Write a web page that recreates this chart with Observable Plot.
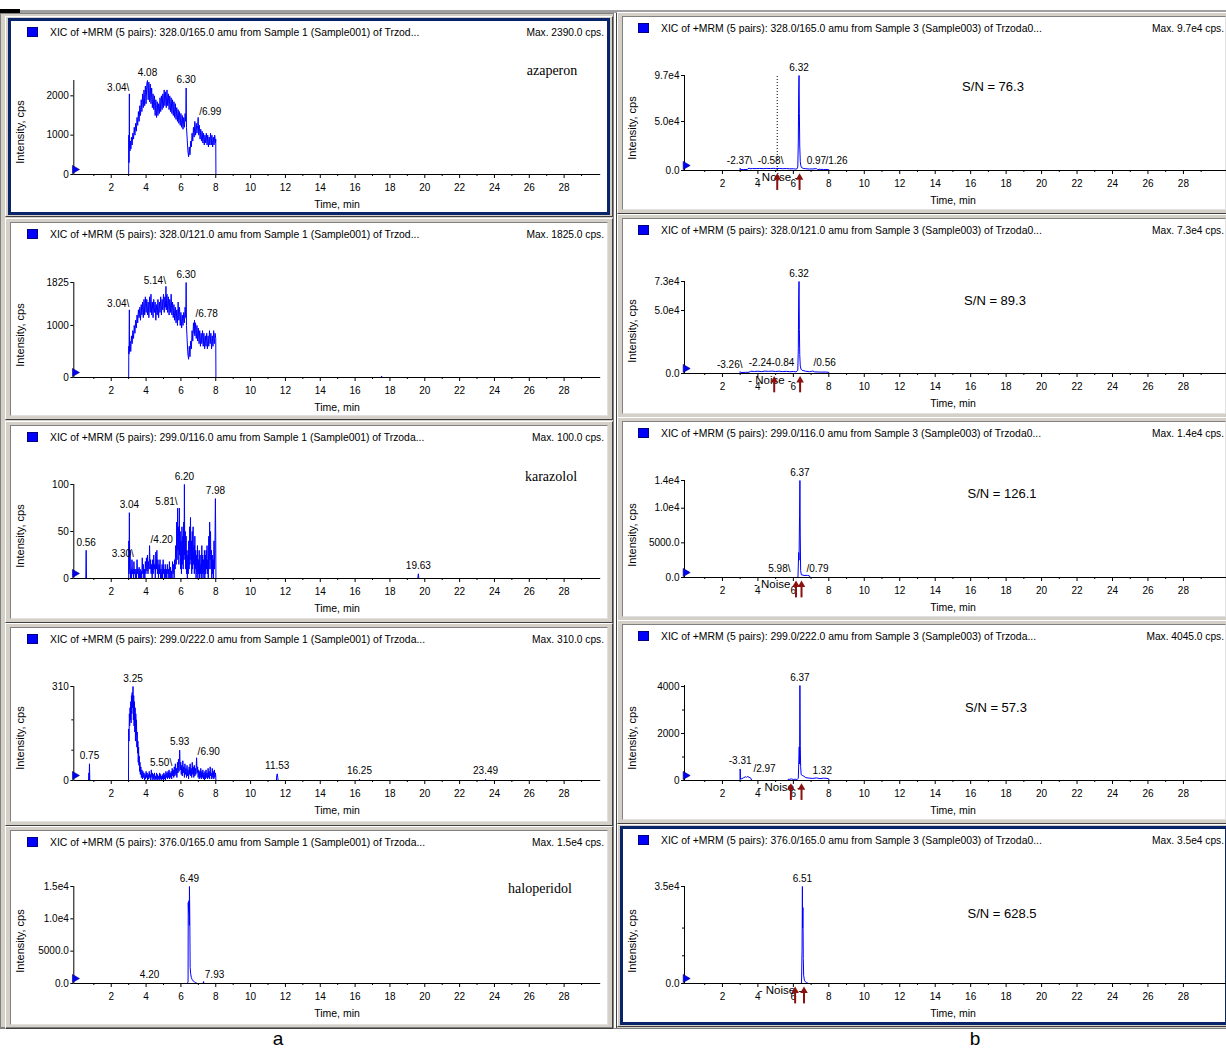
<!DOCTYPE html>
<html>
<head>
<meta charset="utf-8">
<script src="https://cdn.jsdelivr.net/npm/d3@7"></script>
<script src="https://cdn.jsdelivr.net/npm/@observablehq/plot@0.6"></script>
<style>
html,body{margin:0;padding:0;background:#fff;}
#page{position:relative;width:1226px;height:1050px;overflow:hidden;background:#fff;font-family:"Liberation Sans",Arial,sans-serif;color:#000;}
#page div{position:absolute;}
.t{white-space:nowrap;line-height:1;}
</style>
</head>
<body>
<div id="page"></div>
<script>
// ---------------- DATA ----------------
const timeMajor = [2,4,6,8,10,12,14,16,18,20,22,24,26,28];
const timeMinor = [1,3,5,7,9,11,13,15,17,19,21,23,25,27,29];

// Sample 1 (column a)
const L1_header = "XIC of +MRM (5 pairs): 328.0/165.0 amu from Sample 1 (Sample001) of Trzod...";
const L1_maxText = "Max. 2390.0 cps.";
const L1_max = 2390;
const L1_yTicks = [0,1000,2000];
const L1_yLabels = ["0","1000","2000"];
const L1_trace = [[2.99,0],[3.00,0],[3.01,1000],[3.02,300],[3.03,800],[3.04,2050],[3.05,700],[3.08,600],[3.10,850],[3.13,650],[3.16,950],[3.20,750],[3.24,1050],[3.28,900],[3.32,1200],[3.36,1000],[3.40,1300],[3.44,1100],[3.48,1450],[3.52,1250],[3.56,1600],[3.60,1350],[3.64,1750],[3.68,1500],[3.72,1900],[3.76,1600],[3.80,2050],[3.84,1700],[3.88,2150],[3.92,1750],[3.96,2250],[4.00,1800],[4.04,2300],[4.08,2390],[4.12,1900],[4.16,2350],[4.20,1850],[4.24,2300],[4.28,1800],[4.32,2200],[4.36,1700],[4.40,2050],[4.44,1650],[4.48,2000],[4.52,1500],[4.56,1900],[4.60,1450],[4.64,1850],[4.68,1500],[4.72,1800],[4.76,1550],[4.80,1950],[4.84,1600],[4.88,2000],[4.92,1650],[4.96,2050],[5.00,1700],[5.04,2150],[5.08,1750],[5.12,2100],[5.16,1700],[5.20,2150],[5.24,1750],[5.28,2050],[5.32,1650],[5.36,2000],[5.40,1600],[5.44,1950],[5.48,1550],[5.52,1900],[5.56,1500],[5.60,1850],[5.64,1450],[5.68,1800],[5.72,1400],[5.76,1700],[5.80,1350],[5.84,1650],[5.88,1300],[5.92,1600],[5.96,1250],[6.00,1550],[6.04,1200],[6.08,1500],[6.12,1150],[6.16,1450],[6.20,1200],[6.24,1550],[6.28,1350],[6.30,2200],[6.32,1200],[6.36,900],[6.40,600],[6.44,450],[6.48,700],[6.52,500],[6.56,850],[6.60,700],[6.64,1050],[6.68,850],[6.72,1200],[6.76,950],[6.80,1350],[6.84,1000],[6.88,1300],[6.92,1050],[6.96,1250],[6.99,1450],[7.02,1000],[7.06,1250],[7.10,900],[7.14,1150],[7.18,850],[7.22,1100],[7.26,800],[7.30,1050],[7.34,750],[7.38,1000],[7.42,800],[7.46,1050],[7.50,750],[7.54,1000],[7.58,700],[7.62,950],[7.66,750],[7.70,1050],[7.74,750],[7.78,1000],[7.82,700],[7.86,950],[7.90,750],[7.94,1000],[7.98,800],[8.00,900],[8.01,0]];
const L1_peaks = [{t:3.04,v:2050,text:"3.04",kind:"l"},{t:4.08,v:2390,text:"4.08",kind:"c"},{t:6.30,v:2200,text:"6.30",kind:"c"},{t:6.99,v:1450,text:"6.99",kind:"r"}];

const L2_header = "XIC of +MRM (5 pairs): 328.0/121.0 amu from Sample 1 (Sample001) of Trzod...";
const L2_maxText = "Max. 1825.0 cps.";
const L2_max = 1825;
const L2_yTicks = [0,1000,1825];
const L2_yLabels = ["0","1000","1825"];
const L2_trace = [[3.00,0],[3.01,600],[3.02,450],[3.04,1300],[3.05,500],[3.08,700],[3.12,500],[3.16,800],[3.20,650],[3.24,900],[3.28,750],[3.32,1000],[3.36,850],[3.40,1100],[3.44,950],[3.48,1200],[3.52,1050],[3.56,1300],[3.60,1150],[3.64,1350],[3.68,1100],[3.72,1400],[3.76,1200],[3.80,1450],[3.84,1150],[3.88,1500],[3.92,1200],[3.96,1550],[4.00,1250],[4.04,1500],[4.08,1200],[4.12,1450],[4.16,1150],[4.20,1550],[4.24,1250],[4.28,1600],[4.32,1200],[4.36,1450],[4.40,1150],[4.44,1500],[4.48,1250],[4.52,1450],[4.56,1100],[4.60,1400],[4.64,1200],[4.68,1500],[4.72,1150],[4.76,1450],[4.80,1250],[4.84,1550],[4.88,1200],[4.92,1500],[4.96,1300],[5.00,1600],[5.04,1250],[5.08,1550],[5.12,1350],[5.14,1750],[5.16,1300],[5.20,1600],[5.24,1250],[5.28,1550],[5.32,1200],[5.36,1500],[5.40,1250],[5.44,1600],[5.48,1200],[5.52,1450],[5.56,1150],[5.60,1400],[5.64,1100],[5.68,1350],[5.72,1050],[5.76,1300],[5.80,1000],[5.84,1450],[5.88,1100],[5.92,1350],[5.96,1000],[6.00,1250],[6.04,950],[6.08,1200],[6.12,1000],[6.16,1250],[6.20,1050],[6.24,1350],[6.28,1150],[6.30,1825],[6.32,1000],[6.36,700],[6.40,450],[6.44,350],[6.48,600],[6.52,400],[6.56,700],[6.60,550],[6.64,900],[6.68,700],[6.72,1050],[6.76,850],[6.78,1100],[6.80,800],[6.84,1050],[6.88,750],[6.92,1000],[6.96,700],[7.00,950],[7.04,650],[7.08,900],[7.12,600],[7.16,850],[7.20,650],[7.24,900],[7.28,600],[7.32,850],[7.36,550],[7.40,800],[7.44,600],[7.48,850],[7.52,550],[7.56,800],[7.60,600],[7.64,900],[7.68,650],[7.72,850],[7.76,550],[7.80,800],[7.84,600],[7.88,900],[7.92,650],[7.96,850],[8.00,750],[8.01,0],[17.48,0],[17.52,25],[17.56,0]];
const L2_peaks = [{t:3.04,v:1300,text:"3.04",kind:"l"},{t:5.14,v:1750,text:"5.14",kind:"l"},{t:6.30,v:1825,text:"6.30",kind:"c"},{t:6.78,v:1100,text:"6.78",kind:"r"}];

const L3_header = "XIC of +MRM (5 pairs): 299.0/116.0 amu from Sample 1 (Sample001) of Trzoda...";
const L3_maxText = "Max. 100.0 cps.";
const L3_max = 100;
const L3_yTicks = [0,50,100];
const L3_yLabels = ["0","50","100"];
const L3_trace = [[0.54,0],[0.56,30],[0.58,0],[3.00,0],[3.01,40],[3.02,5],[3.04,70],[3.06,10],[3.08,30],[3.10,0],[3.13,10],[3.16,0],[3.19,20],[3.22,5],[3.25,10],[3.28,0],[3.30,18],[3.33,5],[3.36,10],[3.39,0],[3.42,10],[3.45,0],[3.48,20],[3.51,5],[3.54,10],[3.57,0],[3.60,12],[3.63,0],[3.66,10],[3.69,0],[3.72,8],[3.75,0],[3.78,22],[3.81,5],[3.84,15],[3.87,0],[3.90,10],[3.93,0],[3.96,18],[3.99,5],[4.02,22],[4.05,8],[4.08,25],[4.11,5],[4.14,18],[4.17,10],[4.20,35],[4.23,10],[4.26,20],[4.29,5],[4.32,15],[4.35,0],[4.38,20],[4.41,5],[4.44,25],[4.47,10],[4.50,15],[4.53,0],[4.56,28],[4.59,10],[4.62,30],[4.65,5],[4.68,20],[4.71,0],[4.74,15],[4.77,5],[4.80,20],[4.83,0],[4.86,10],[4.89,0],[4.92,15],[4.95,0],[4.98,20],[5.01,5],[5.04,10],[5.07,0],[5.10,15],[5.13,0],[5.16,10],[5.19,0],[5.22,15],[5.25,5],[5.28,10],[5.31,0],[5.34,18],[5.37,0],[5.40,12],[5.43,0],[5.46,8],[5.49,0],[5.52,18],[5.55,5],[5.58,15],[5.61,0],[5.64,20],[5.67,10],[5.70,35],[5.73,15],[5.76,60],[5.78,20],[5.81,75],[5.83,30],[5.86,55],[5.88,15],[5.91,75],[5.93,25],[5.96,50],[5.98,10],[6.01,40],[6.03,5],[6.06,55],[6.08,15],[6.11,45],[6.13,10],[6.16,60],[6.18,20],[6.20,100],[6.22,25],[6.25,50],[6.27,10],[6.30,45],[6.32,5],[6.35,30],[6.37,0],[6.40,25],[6.42,5],[6.45,40],[6.47,10],[6.50,55],[6.52,15],[6.55,65],[6.57,20],[6.60,40],[6.62,5],[6.65,50],[6.67,10],[6.70,55],[6.72,15],[6.75,35],[6.77,5],[6.80,45],[6.82,10],[6.85,30],[6.87,0],[6.90,25],[6.92,5],[6.95,35],[6.97,0],[7.00,20],[7.02,5],[7.05,30],[7.07,0],[7.10,25],[7.12,5],[7.15,15],[7.17,0],[7.20,35],[7.22,5],[7.25,25],[7.27,0],[7.30,20],[7.32,5],[7.35,30],[7.37,0],[7.40,25],[7.42,5],[7.45,30],[7.47,10],[7.50,35],[7.52,5],[7.55,20],[7.57,0],[7.60,45],[7.62,10],[7.65,60],[7.67,20],[7.70,50],[7.72,10],[7.75,30],[7.77,0],[7.80,25],[7.82,5],[7.85,20],[7.87,0],[7.90,40],[7.92,10],[7.95,30],[7.98,85],[8.00,40],[8.01,0],[19.60,0],[19.63,5],[19.66,0]];
const L3_peaks = [{t:0.56,v:30,text:"0.56",kind:"c"},{t:3.04,v:70,text:"3.04",kind:"c"},{t:3.30,v:20,text:"3.30",kind:"l"},{t:4.20,v:35,text:"4.20",kind:"r"},{t:5.81,v:75,text:"5.81",kind:"l"},{t:6.20,v:100,text:"6.20",kind:"c"},{t:7.98,v:85,text:"7.98",kind:"c"},{t:19.63,v:5,text:"19.63",kind:"c"}];

const L4_header = "XIC of +MRM (5 pairs): 299.0/222.0 amu from Sample 1 (Sample001) of Trzoda...";
const L4_maxText = "Max. 310.0 cps.";
const L4_max = 310;
const L4_yTicks = [0,310];
const L4_yLabels = ["0","310"];
const L4_yMinor = [100,200];
const L4_trace = [[0.70,0],[0.72,25],[0.73,0],[0.75,55],[0.77,0],[2.99,0],[3.00,170],[3.02,130],[3.04,220],[3.06,180],[3.08,240],[3.10,200],[3.12,260],[3.14,190],[3.16,280],[3.18,220],[3.20,290],[3.22,240],[3.25,310],[3.27,200],[3.29,280],[3.31,180],[3.33,260],[3.35,160],[3.37,240],[3.39,130],[3.41,220],[3.43,150],[3.45,200],[3.47,110],[3.49,160],[3.51,90],[3.53,130],[3.55,60],[3.57,110],[3.59,50],[3.61,80],[3.63,30],[3.65,60],[3.67,20],[3.70,45],[3.73,10],[3.76,35],[3.79,5],[3.82,30],[3.85,10],[3.88,25],[3.91,0],[3.94,20],[3.97,5],[4.00,30],[4.03,10],[4.06,25],[4.09,0],[4.12,20],[4.15,5],[4.18,30],[4.21,10],[4.24,20],[4.27,0],[4.30,35],[4.33,10],[4.36,25],[4.39,0],[4.42,20],[4.45,5],[4.48,25],[4.51,0],[4.54,15],[4.57,5],[4.60,25],[4.63,0],[4.66,20],[4.69,5],[4.72,15],[4.75,0],[4.78,25],[4.81,5],[4.84,20],[4.87,0],[4.90,15],[4.93,5],[4.96,20],[4.99,0],[5.02,25],[5.05,5],[5.08,20],[5.11,0],[5.14,30],[5.17,10],[5.20,25],[5.23,5],[5.26,30],[5.29,10],[5.32,35],[5.35,5],[5.38,25],[5.41,10],[5.44,30],[5.47,5],[5.50,40],[5.53,15],[5.56,35],[5.59,10],[5.62,45],[5.65,15],[5.68,55],[5.71,20],[5.74,40],[5.77,10],[5.80,60],[5.83,25],[5.86,70],[5.89,30],[5.93,100],[5.96,35],[5.99,60],[6.02,20],[6.05,50],[6.08,15],[6.11,65],[6.14,25],[6.17,45],[6.20,10],[6.23,55],[6.26,20],[6.29,40],[6.32,10],[6.35,50],[6.38,15],[6.41,35],[6.44,5],[6.47,45],[6.50,20],[6.53,55],[6.56,15],[6.59,40],[6.62,10],[6.65,60],[6.68,20],[6.71,45],[6.74,10],[6.77,50],[6.80,15],[6.83,40],[6.86,20],[6.90,75],[6.93,25],[6.96,45],[6.99,10],[7.02,35],[7.05,5],[7.08,30],[7.11,10],[7.14,40],[7.17,5],[7.20,30],[7.23,10],[7.26,35],[7.29,5],[7.32,25],[7.35,0],[7.38,30],[7.41,5],[7.44,35],[7.47,10],[7.50,25],[7.53,5],[7.56,40],[7.59,10],[7.62,30],[7.65,5],[7.68,45],[7.71,15],[7.74,25],[7.77,5],[7.80,40],[7.83,10],[7.86,30],[7.89,5],[7.92,35],[7.95,10],[7.98,25],[8.00,15],[8.01,0],[11.48,0],[11.50,15],[11.53,22],[11.56,10],[11.58,0],[16.23,0],[16.25,4],[16.27,0],[23.47,0],[23.49,4],[23.51,0]];
const L4_peaks = [{t:0.75,v:55,text:"0.75",kind:"c"},{t:3.25,v:310,text:"3.25",kind:"c"},{t:5.50,v:40,text:"5.50",kind:"l"},{t:5.93,v:100,text:"5.93",kind:"c"},{t:6.90,v:75,text:"6.90",kind:"r"},{t:11.53,v:22,text:"11.53",kind:"c"},{t:16.25,v:4,text:"16.25",kind:"c"},{t:23.49,v:4,text:"23.49",kind:"c"}];

const L5_header = "XIC of +MRM (5 pairs): 376.0/165.0 amu from Sample 1 (Sample001) of Trzoda...";
const L5_maxText = "Max. 1.5e4 cps.";
const L5_max = 15000;
const L5_yTicks = [0,5000,10000,15000];
const L5_yLabels = ["0.0","5000.0","1.0e4","1.5e4"];
const L5_trace = [[4.18,0],[4.20,60],[4.22,0],[6.38,0],[6.41,300],[6.42,12500],[6.44,11000],[6.46,12800],[6.48,9000],[6.49,15000],[6.51,10000],[6.53,2500],[6.56,1500],[6.60,900],[6.65,600],[6.70,400],[6.78,250],[6.85,120],[6.95,0],[7.28,0],[7.30,300],[7.32,0],[7.91,0],[7.93,80],[7.95,0]];
const L5_peaks = [{t:4.20,v:60,text:"4.20",kind:"c"},{t:6.49,v:15000,text:"6.49",kind:"c"},{t:7.93,v:80,text:"7.93",kind:"c"}];

// Sample 3 (column b)
const R1_header = "XIC of +MRM (5 pairs): 328.0/165.0 amu from Sample 3 (Sample003) of Trzoda0...";
const R1_maxText = "Max. 9.7e4 cps.";
const R1_max = 97000;
const R1_yTicks = [0,50000,97000];
const R1_yLabels = ["0.0","5.0e4","9.7e4"];
const R1_trace = [[2.99,0],[3.00,2200],[3.02,900],[3.20,1000],[3.40,1100],[3.50,2500],[3.55,1800],[3.70,2000],[3.90,1900],[4.10,2100],[4.30,1900],[4.50,2100],[4.70,2000],[4.90,2200],[5.00,1900],[5.20,2100],[5.40,1800],[5.60,2000],[5.80,1700],[6.00,1800],[6.10,1500],[6.20,1600],[6.25,3500],[6.28,30000],[6.30,80000],[6.32,97000],[6.34,58000],[6.36,25000],[6.39,9000],[6.42,5000],[6.46,3000],[6.55,2200],[6.70,1800],[6.90,1500],[7.10,1600],[7.30,1900],[7.35,1100],[7.50,1200],[7.70,1000],[7.90,1100],[8.00,900],[8.01,0]];
const R1_peaks = [{t:6.32,v:97000,text:"6.32",kind:"c"},{t:3.69,v:4000,text:"-2.37",kind:"l"},{t:5.44,v:4000,text:"-0.58",kind:"l"},{t:7.30,v:1500,text:"0.97",kind:"c"},{t:7.75,v:3500,text:"1.26",kind:"r"}];
const R1_noise = {arrows:[5.09,6.35], labelT:5.05, dotted:true};
const R1_sn = "S/N = 76.3";

const R2_header = "XIC of +MRM (5 pairs): 328.0/121.0 amu from Sample 3 (Sample003) of Trzoda0...";
const R2_maxText = "Max. 7.3e4 cps.";
const R2_max = 73000;
const R2_yTicks = [0,50000,73000];
const R2_yLabels = ["0.0","5.0e4","7.3e4"];
const R2_trace = [[2.99,0],[3.00,1500],[3.05,800],[3.30,900],[3.50,1000],[3.60,1800],[3.80,1600],[4.00,1800],[4.20,1500],[4.40,1900],[4.60,1700],[4.80,1900],[5.00,1600],[5.20,1800],[5.40,1500],[5.60,1700],[5.80,1400],[6.00,1600],[6.15,1300],[6.25,2500],[6.28,20000],[6.30,60000],[6.32,73000],[6.34,35000],[6.36,15000],[6.39,6000],[6.43,3500],[6.50,2500],[6.70,1800],[6.90,1400],[7.00,1600],[7.10,2000],[7.20,1300],[7.40,1200],[7.60,1100],[7.80,1200],[8.00,900],[8.01,0]];
const R2_peaks = [{t:6.32,v:73000,text:"6.32",kind:"c"},{t:3.13,v:2400,text:"-3.26",kind:"l"},{t:4.77,v:2400,text:"-2.24-0.84",kind:"c"},{t:7.08,v:4000,text:"0.56",kind:"r"}];
const R2_noise = {arrows:[4.92,6.38], labelT:4.68, dotted:false};
const R2_sn = "S/N = 89.3";

const R3_header = "XIC of +MRM (5 pairs): 299.0/116.0 amu from Sample 3 (Sample003) of Trzoda0...";
const R3_maxText = "Max. 1.4e4 cps.";
const R3_max = 14000;
const R3_yTicks = [0,5000,10000,14000];
const R3_yLabels = ["0.0","5000.0","1.0e4","1.4e4"];
const R3_trace = [[6.20,0],[6.26,100],[6.30,3600],[6.32,2500],[6.35,9000],[6.37,14000],[6.39,6000],[6.41,1000],[6.45,400],[6.60,300],[6.80,300],[6.90,250],[6.95,0]];
const R3_peaks = [{t:6.37,v:14000,text:"6.37",kind:"c"},{t:5.84,v:430,text:"5.98",kind:"l"},{t:6.68,v:430,text:"0.79",kind:"r"}];
const R3_noise = {arrows:[6.15,6.46], labelT:5.0, dotted:false};
const R3_sn = "S/N = 126.1";

const R4_header = "XIC of +MRM (5 pairs): 299.0/222.0 amu from Sample 3 (Sample003) of Trzoda...";
const R4_maxText = "Max. 4045.0 cps.";
const R4_max = 4045;
const R4_yTicks = [0,2000,4000];
const R4_yLabels = ["0","2000","4000"];
const R4_yMinor = [1000,3000];
const R4_trace = [[2.99,0],[3.00,490],[3.02,60],[3.10,80],[3.20,120],[3.30,160],[3.35,130],[3.40,170],[3.50,140],[3.60,100],[3.65,0],[5.70,0],[5.72,60],[5.80,50],[5.90,70],[6.00,40],[6.10,60],[6.20,30],[6.28,100],[6.33,1430],[6.35,700],[6.37,4045],[6.39,1500],[6.41,600],[6.44,250],[6.50,220],[6.60,180],[6.70,120],[6.90,100],[7.10,90],[7.30,110],[7.50,80],[7.70,100],[7.90,90],[8.00,70],[8.01,0]];
const R4_peaks = [{t:6.37,v:4045,text:"6.37",kind:"c"},{t:3.00,v:490,text:"-3.31",kind:"c"},{t:3.69,v:255,text:"2.97",kind:"r"},{t:7.63,v:85,text:"1.32",kind:"c"}];
const R4_noise = {arrows:[5.86,6.46], labelT:5.2, dotted:false};
const R4_sn = "S/N = 57.3";

const R5_header = "XIC of +MRM (5 pairs): 376.0/165.0 amu from Sample 3 (Sample003) of Trzoda0...";
const R5_maxText = "Max. 3.5e4 cps.";
const R5_max = 35000;
const R5_yTicks = [0,35000];
const R5_yLabels = ["0.0","3.5e4"];
const R5_yMinor = [10000,20000];
const R5_trace = [[6.40,0],[6.46,200],[6.49,12000],[6.51,35000],[6.52,20000],[6.54,27400],[6.56,9000],[6.58,3000],[6.62,1200],[6.68,600],[6.75,300],[6.85,0]];
const R5_peaks = [{t:6.51,v:35000,text:"6.51",kind:"c"}];
const R5_noise = {arrows:[6.10,6.60], labelT:5.27, dotted:false};
const R5_sn = "S/N = 628.5";

const compoundNames = ["azaperon","karazolol","haloperidol"];
const captions = ["a","b"];

// ---------------- LAYOUT / STYLE ----------------
const geom = {
  left:  {x:10, w:598, xDomain:[-0.15,30.1], mL:63.3, mR:7.8, sqX:27, hdrX:50, maxR:604, timeX:337, intX:20,
          tops:[20,222,425,627,830], bottoms:[213,416,619,822,1025], base:[174,377,578,780,983], peak:[80,282,484,686,886]},
  right: {x:622, w:604, xDomain:[-0.14,30.43], mL:62, mR:0, sqX:638, hdrX:661, maxR:1224, timeX:953, intX:632,
          tops:[16,218,421,624,828], bottoms:[210,414,617,820,1023], base:[170,373,577,780,983], peak:[75,281,480,685,886]}
};

const panels = [
  {col:"left", row:0, trace:L1_trace, peaks:L1_peaks, yTicks:L1_yTicks, yLabels:L1_yLabels, yMinor:[], max:L1_max, header:L1_header, maxText:L1_maxText, sel:true},
  {col:"left", row:1, trace:L2_trace, peaks:L2_peaks, yTicks:L2_yTicks, yLabels:L2_yLabels, yMinor:[], max:L2_max, header:L2_header, maxText:L2_maxText},
  {col:"left", row:2, trace:L3_trace, peaks:L3_peaks, yTicks:L3_yTicks, yLabels:L3_yLabels, yMinor:[], max:L3_max, header:L3_header, maxText:L3_maxText},
  {col:"left", row:3, trace:L4_trace, peaks:L4_peaks, yTicks:L4_yTicks, yLabels:L4_yLabels, yMinor:L4_yMinor, max:L4_max, header:L4_header, maxText:L4_maxText},
  {col:"left", row:4, trace:L5_trace, peaks:L5_peaks, yTicks:L5_yTicks, yLabels:L5_yLabels, yMinor:[], max:L5_max, header:L5_header, maxText:L5_maxText},
  {col:"right", row:0, trace:R1_trace, peaks:R1_peaks, yTicks:R1_yTicks, yLabels:R1_yLabels, yMinor:[], max:R1_max, header:R1_header, maxText:R1_maxText, noise:R1_noise, sn:R1_sn},
  {col:"right", row:1, trace:R2_trace, peaks:R2_peaks, yTicks:R2_yTicks, yLabels:R2_yLabels, yMinor:[], max:R2_max, header:R2_header, maxText:R2_maxText, noise:R2_noise, sn:R2_sn},
  {col:"right", row:2, trace:R3_trace, peaks:R3_peaks, yTicks:R3_yTicks, yLabels:R3_yLabels, yMinor:[], max:R3_max, header:R3_header, maxText:R3_maxText, noise:R3_noise, sn:R3_sn},
  {col:"right", row:3, trace:R4_trace, peaks:R4_peaks, yTicks:R4_yTicks, yLabels:R4_yLabels, yMinor:R4_yMinor, max:R4_max, header:R4_header, maxText:R4_maxText, noise:R4_noise, sn:R4_sn},
  {col:"right", row:4, trace:R5_trace, peaks:R5_peaks, yTicks:R5_yTicks, yLabels:R5_yLabels, yMinor:R5_yMinor, max:R5_max, header:R5_header, maxText:R5_maxText, noise:R5_noise, sn:R5_sn, sel:true}
];
const namePos = [[552,71],[551,477],[540,889]];
const snPos = [[993,86],[995,300],[1002,493],[996,707],[1002,913]];
const captionPos = [[278,1039],[975,1039]];

const page = document.getElementById("page");
function addDiv(css, text, cls) {
  const d = document.createElement("div");
  d.style.cssText = css;
  if (cls) d.className = cls;
  if (text != null) d.textContent = text;
  page.appendChild(d);
  return d;
}
const center = (x, y) => `left:${x}px;top:${y}px;transform:translate(-50%,-50%);`;

// window background
addDiv("left:0;top:10px;width:1226px;height:3px;background:#a0a0a0;");
addDiv("left:0;top:9px;width:20px;height:4px;background:#000;");
addDiv("left:0;top:13px;width:1226px;height:1016px;background:#d4d0c8;");
addDiv("left:0;top:13px;width:614px;height:1015px;box-sizing:border-box;border:1px solid #808080;");
addDiv("left:614px;top:13px;width:2px;height:1016px;background:#fff;");
addDiv("left:616px;top:13px;width:1px;height:1016px;background:#404040;");
addDiv("left:0;top:1028px;width:1226px;height:1px;background:#808080;");

function drawPanel(p) {
  const g = geom[p.col], r = p.row;
  const top = g.tops[r], bottom = g.bottoms[r], H = bottom - top;
  const base = g.base[r], peakY = g.peak[r];
  // frame
  addDiv(`left:${g.x - 5}px;top:${top - 4}px;width:${g.w + 10}px;height:${H + 8}px;box-sizing:border-box;border-top:1px solid #fff;border-left:1px solid #fff;border-bottom:1px solid #404040;border-right:1px solid #404040;`);
  if (p.sel) {
    addDiv(`left:${g.x - 2}px;top:${top - 2}px;width:${g.w + 4}px;height:${H + 4}px;background:#fff;box-sizing:border-box;border:3px solid #0a246a;`);
  } else {
    addDiv(`left:${g.x}px;top:${top}px;width:${g.w}px;height:${H}px;background:#fff;box-sizing:border-box;border-top:1px solid #808080;border-left:1px solid #808080;border-bottom:1px solid #e0e0e0;border-right:1px solid #e0e0e0;`);
  }
  // header
  const hy = top + 13;
  addDiv(`left:${g.sqX}px;top:${hy - 6}px;width:9px;height:8px;background:#0000ff;border:1px solid #000080;`);
  addDiv(`left:${g.hdrX}px;top:${hy}px;transform:translateY(-50%);font-size:10.4px;`, p.header, "t");
  addDiv(`right:${1226 - g.maxR}px;top:${hy}px;transform:translateY(-50%);font-size:10.2px;`, p.maxText, "t");
  // axis titles
  addDiv(center(g.timeX, base + 30) + "font-size:10.5px;", "Time, min", "t");
  addDiv(`left:${g.intX}px;top:${base - 42}px;transform:translate(-50%,-50%) rotate(-90deg);font-size:11px;`, "Intensity, cps", "t");

  // plot
  const x0 = g.xDomain[0];
  const yMap = new Map(p.yTicks.map((v, i) => [v, p.yLabels[i]]));
  const max = p.max;
  const marks = [];
  if (p.noise) {
    marks.push(Plot.text([p.noise], {x: d => d.labelT, y: () => 0, text: () => "- Noise -", dy: 7, fontSize: 11.5}));
  }
  marks.push(Plot.line(p.trace, {x: d => d[0], y: d => d[1], stroke: "#0000ff", strokeWidth: 1}));
  if (p.noise && p.noise.dotted) {
    marks.push(Plot.ruleX([p.noise.arrows[0]], {x: d => d, y1: () => 0, y2: () => max, stroke: "#000", strokeDasharray: "1,2"}));
  }
  marks.push(Plot.ruleY([0], {stroke: "#000"}));
  marks.push(Plot.ruleX([x0], {x: d => d, y1: () => 0, y2: () => max, stroke: "#000"}));
  marks.push(Plot.axisX({ticks: timeMajor, tickSize: 4, tickPadding: 5, tickFormat: d => String(d), label: null, fontSize: 10}));
  marks.push(Plot.axisX({ticks: timeMinor, tickSize: 2, tickFormat: () => "", label: null}));
  marks.push(Plot.axisY({ticks: p.yTicks, tickSize: 3, tickPadding: 2, tickFormat: d => yMap.get(d), label: null, fontSize: 10}));
  if (p.yMinor.length) marks.push(Plot.axisY({ticks: p.yMinor, tickSize: 2, tickFormat: () => "", label: null}));
  marks.push(Plot.dot([x0], {x: d => d, y: () => 0, symbol: "triangle", rotate: 90, r: 3, fill: "#0000ff", stroke: "#000060", strokeWidth: 0.6, dy: -5, dx: 1}));
  marks.push(Plot.text(p.peaks.filter(d => d.kind === "c"), {x: "t", y: "v", text: "text", dy: -8, fontSize: 10}));
  marks.push(Plot.text(p.peaks.filter(d => d.kind === "l"), {x: "t", y: "v", text: d => d.text + "\\", textAnchor: "end", dy: -6, fontSize: 10}));
  marks.push(Plot.text(p.peaks.filter(d => d.kind === "r"), {x: "t", y: "v", text: d => "/" + d.text, textAnchor: "start", dx: 1, dy: -6, fontSize: 10}));
  if (p.noise) {
    marks.push(Plot.ruleX(p.noise.arrows, {x: d => d, y1: () => -max * 0.21, y2: () => -max * 0.08, stroke: "#8b1010", strokeWidth: 2}));
    marks.push(Plot.dot(p.noise.arrows, {x: d => d, y: () => -max * 0.075, symbol: "triangle", r: 2.8, fill: "#8b1010", stroke: "none"}));
  }
  const svg = Plot.plot({
    width: g.w, height: H,
    marginTop: peakY - top, marginBottom: bottom - base,
    marginLeft: g.mL, marginRight: g.mR,
    x: {domain: g.xDomain},
    y: {domain: [0, max]},
    style: {background: "transparent", overflow: "visible", fontFamily: "Liberation Sans, Arial, sans-serif", fontSize: "10px", color: "#000"},
    marks
  });
  const wrap = addDiv(`left:${g.x}px;top:${top}px;width:${g.w}px;height:${H}px;`);
  wrap.appendChild(svg);
}

panels.forEach(drawPanel);

// compound names (column a) and S/N (column b)
compoundNames.forEach((n, i) => addDiv(center(namePos[i][0], namePos[i][1]) + "font-family:'Liberation Serif','Times New Roman',serif;font-size:14px;", n, "t"));
panels.filter(p => p.sn).forEach((p, i) => addDiv(center(snPos[i][0], snPos[i][1]) + "font-size:13px;", p.sn, "t"));
captions.forEach((c, i) => addDiv(center(captionPos[i][0], captionPos[i][1]) + "font-size:19px;line-height:1.15;", c, "t"));
</script>
</body>
</html>
